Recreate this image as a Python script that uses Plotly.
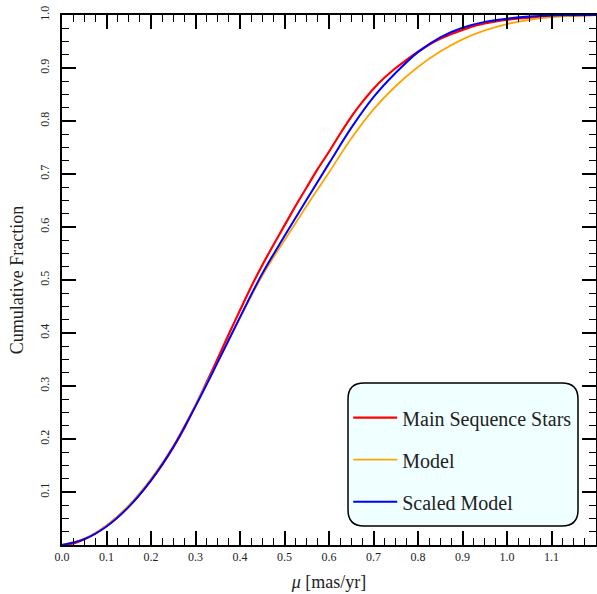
import plotly.graph_objects as go

# ---- data ----
x_model = [0.0, 0.05, 0.1, 0.15, 0.2, 0.25, 0.3, 0.35, 0.4, 0.45, 0.5, 0.55, 0.6,
           0.65, 0.7, 0.75, 0.8, 0.85, 0.9, 0.95, 1.0, 1.05, 1.1, 1.15, 1.2]
model = [0.0, 0.012, 0.037, 0.075, 0.125, 0.187, 0.265, 0.345, 0.428, 0.508, 0.575,
         0.64, 0.703, 0.767, 0.822, 0.866, 0.902, 0.931, 0.954, 0.971, 0.983, 0.991,
         0.996, 0.999, 1.0]
scaled_model = [0.0, 0.011, 0.035, 0.072, 0.122, 0.185, 0.262, 0.345, 0.43, 0.512,
                0.583, 0.652, 0.72, 0.787, 0.845, 0.891, 0.93, 0.958, 0.976, 0.987,
                0.993, 0.997, 0.999, 1.0, 1.0]

x_stars = [0.0, 0.025, 0.05, 0.075, 0.1, 0.125, 0.15, 0.175, 0.2, 0.225, 0.25, 0.275,
           0.3, 0.325, 0.35, 0.375, 0.4, 0.425, 0.45, 0.475, 0.5, 0.525, 0.55, 0.575,
           0.6, 0.625, 0.65, 0.675, 0.7, 0.725, 0.75, 0.775, 0.8, 0.825, 0.85, 0.875,
           0.9, 0.925, 0.95, 0.975, 1.0, 1.05, 1.1, 1.15, 1.2]
stars = [0.0, 0.003, 0.011, 0.022, 0.036, 0.053, 0.073, 0.096, 0.122, 0.151, 0.184,
         0.221, 0.263, 0.307, 0.352, 0.398, 0.443, 0.487, 0.528, 0.566, 0.603, 0.64,
         0.675, 0.71, 0.742, 0.776, 0.808, 0.836, 0.861, 0.882, 0.9, 0.916, 0.931,
         0.944, 0.955, 0.964, 0.972, 0.979, 0.984, 0.988, 0.991, 0.995, 0.998, 0.999, 1.0]

x_ticks = [0.0, 0.1, 0.2, 0.3, 0.4, 0.5, 0.6, 0.7, 0.8, 0.9, 1.0, 1.1]
y_ticks = [0.1, 0.2, 0.3, 0.4, 0.5, 0.6, 0.7, 0.8, 0.9, 1.0]

FONT = "Times New Roman, Liberation Serif, serif"

fig = go.Figure()
fig.add_trace(go.Scatter(x=x_stars, y=stars, mode="lines", name="Main Sequence Stars",
                         line=dict(color="#ff0000", width=2.2, shape="spline", smoothing=0.6),
                         legendgroup="a"))
fig.add_trace(go.Scatter(x=x_model, y=model, mode="lines", name="Model",
                         line=dict(color="#ffa500", width=1.8, shape="spline"), legendgroup="b"))
fig.add_trace(go.Scatter(x=x_model, y=scaled_model, mode="lines", name="Scaled Model",
                         line=dict(color="#0000ff", width=2, shape="spline"), legendgroup="c"))
# invisible trace that anchors the mirrored top/right tick axes
fig.add_trace(go.Scatter(x=[None], y=[None], xaxis="x2", yaxis="y2", mode="lines",
                         showlegend=False, hoverinfo="skip", legendgroup="z"))

minor = dict(ticks="inside", ticklen=7, dtick=0.025, tickwidth=1.2, tickcolor="black")
axis_common = dict(showgrid=False, zeroline=False, showline=True, linecolor="black",
                   linewidth=2, ticks="inside", ticklen=14,
                   tickwidth=1.5, tickcolor="black",
                   tickfont=dict(family=FONT, size=12, color="#222"),
                   minor=minor)

fig.update_layout(
    xaxis=dict(range=[0, 1.2], tickvals=x_ticks,
               ticktext=[f"{v:.1f}" for v in x_ticks],
               title=dict(text="<i>μ</i> [mas/yr]", font=dict(family=FONT, size=18, color="#222"),
                          standoff=12),
               **axis_common),
    yaxis=dict(range=[0, 1.0], tickvals=y_ticks,
               ticktext=[f"{v:.1f}" for v in y_ticks], tickangle=-90,
               ticklabelstandoff=6,
               title=dict(text="Cumulative Fraction", font=dict(family=FONT, size=18, color="#222"),
                          standoff=10),
               **axis_common),
    xaxis2=dict(range=[0, 1.2], tickvals=x_ticks, overlaying="x", side="top",
                anchor="y2", showticklabels=False, **axis_common),
    yaxis2=dict(range=[0, 1.0], tickvals=y_ticks, overlaying="y", side="right",
                anchor="x2", showticklabels=False, **axis_common),
)

# rounded legend frame (paper coords)
x0, x1, y0, y1 = 0.5356, 0.9663, 0.0358, 0.3057
rx, ry = 16 / 534, 16 / 530
path = (f"M {x0+rx},{y0} L {x1-rx},{y0} Q {x1},{y0} {x1},{y0+ry} "
        f"L {x1},{y1-ry} Q {x1},{y1} {x1-rx},{y1} L {x0+rx},{y1} "
        f"Q {x0},{y1} {x0},{y1-ry} L {x0},{y0+ry} Q {x0},{y0} {x0+rx},{y0} Z")
fig.add_shape(type="path", path=path, xref="paper", yref="paper",
              fillcolor="#f0ffff", line=dict(color="black", width=1.5), layer="below")

fig.update_layout(
    width=597, height=594,
    margin=dict(l=62, r=1, t=15, b=49),
    plot_bgcolor="white", paper_bgcolor="white",
    font=dict(family=FONT, color="#222"),
    legend=dict(x=0.536, y=0.277, xanchor="left", yanchor="top",
                bgcolor="rgba(0,0,0,0)", borderwidth=0,
                font=dict(family=FONT, size=20, color="#222"),
                itemwidth=44,
                traceorder="grouped", tracegroupgap=13),
    showlegend=True,
)

fig.write_html("out.html")
